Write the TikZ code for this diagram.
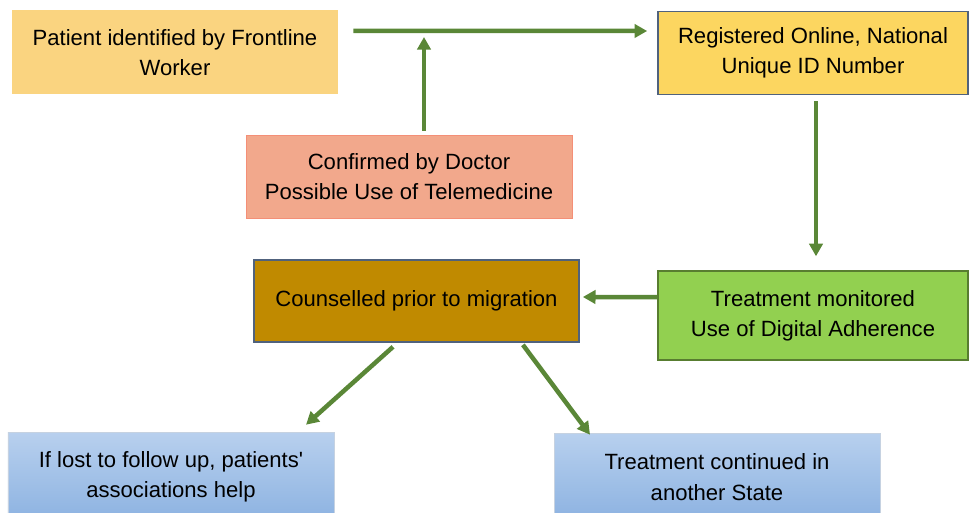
\documentclass[tikz,border=0pt]{standalone}
\usepackage{fontspec}
\setmainfont{Liberation Sans}
\usepackage{xcolor}
\usepackage{tikz}
\usetikzlibrary{arrows.meta,positioning}

\definecolor{flowgreen}{RGB}{90,135,55}
\definecolor{frontfill}{RGB}{250,212,128}
\definecolor{regfill}{RGB}{252,214,96}
\definecolor{docfill}{RGB}{242,168,140}
\definecolor{counfill}{RGB}{192,138,0}
\definecolor{monfill}{RGB}{146,208,80}
\definecolor{bluetop}{RGB}{184,208,238}
\definecolor{bluebot}{RGB}{140,178,225}
\definecolor{edgegray}{RGB}{80,98,125}

\begin{document}
\begin{tikzpicture}[
    x=1cm,y=1cm,
    font=\fontsize{15.7}{21.5}\selectfont,
    box/.style={
        minimum width=8.15cm,
        minimum height=2.075cm,
        align=center,
        inner sep=0pt
    },
    bluebox/.style={
        box,
        draw=bluebot!80!black!40,
        top color=bluetop,
        bottom color=bluebot
    },
    flow/.style={
        draw=flowgreen,
        line width=3.2pt,
        -{Triangle[length=9pt,width=9.5pt]}
    }
]

\useasboundingbox (0,0) rectangle (24.25,-12.825);

\node[box, fill=frontfill, minimum height=2.1cm] (frontline) at (4.375,-1.3125)
    {Patient identified by Frontline\\Worker};
\node[box, fill=regfill, draw=edgegray, line width=1.2pt, minimum width=7.75cm]
    (registered) at (20.325,-1.325) {Registered Online, National\\Unique ID Number};
\node[box, fill=docfill, draw=docfill!85!red] (doctor) at (10.225,-4.4125)
    {Confirmed by Doctor\\Possible Use of Telemedicine};
\node[box, fill=counfill, draw=edgegray, line width=1.2pt, minimum width=8.125cm,
    minimum height=2.05cm] (counselled) at (10.4125,-7.525) {Counselled prior to migration};
\node[box, fill=monfill, draw=monfill!60!black, line width=1pt, minimum width=7.75cm,
    minimum height=2.225cm] (monitored) at (20.325,-7.8875)
    {Treatment monitored\\Use of Digital Adherence};

\node[bluebox, minimum height=2.25cm] (lost) at (4.275,-11.925)
    {If lost to follow up, patients\textquotesingle\\associations help};
\node[bluebox, minimum height=2.2cm] (otherstate) at (17.925,-11.925)
    {Treatment continued in\\another State};

\coordinate (joinpt) at (10.6,-0.925);

\draw[flow] ([xshift=0.375cm,yshift=0.54cm]frontline.east)
    -- ([xshift=-0.25cm,yshift=0.55cm]registered.west);
\draw[flow] ([xshift=0.375cm,yshift=0.1cm]doctor.north) -- (joinpt);
\draw[flow] ([xshift=0.075cm,yshift=-0.15cm]registered.south)
    -- ([xshift=0.075cm,yshift=0.35cm]monitored.north);
\draw[flow] ([yshift=0.46cm]monitored.west) -- ([xshift=0.075cm,yshift=0.1cm]counselled.east);
\draw[flow] ([xshift=-0.5875cm,yshift=-0.1cm]counselled.south)
    -- ([xshift=3.375cm,yshift=0.175cm]lost.north);
\draw[flow] ([xshift=2.66cm,yshift=-0.05cm]counselled.south)
    -- ([xshift=-3.175cm,yshift=-0.05cm]otherstate.north);

\end{tikzpicture}
\end{document}
